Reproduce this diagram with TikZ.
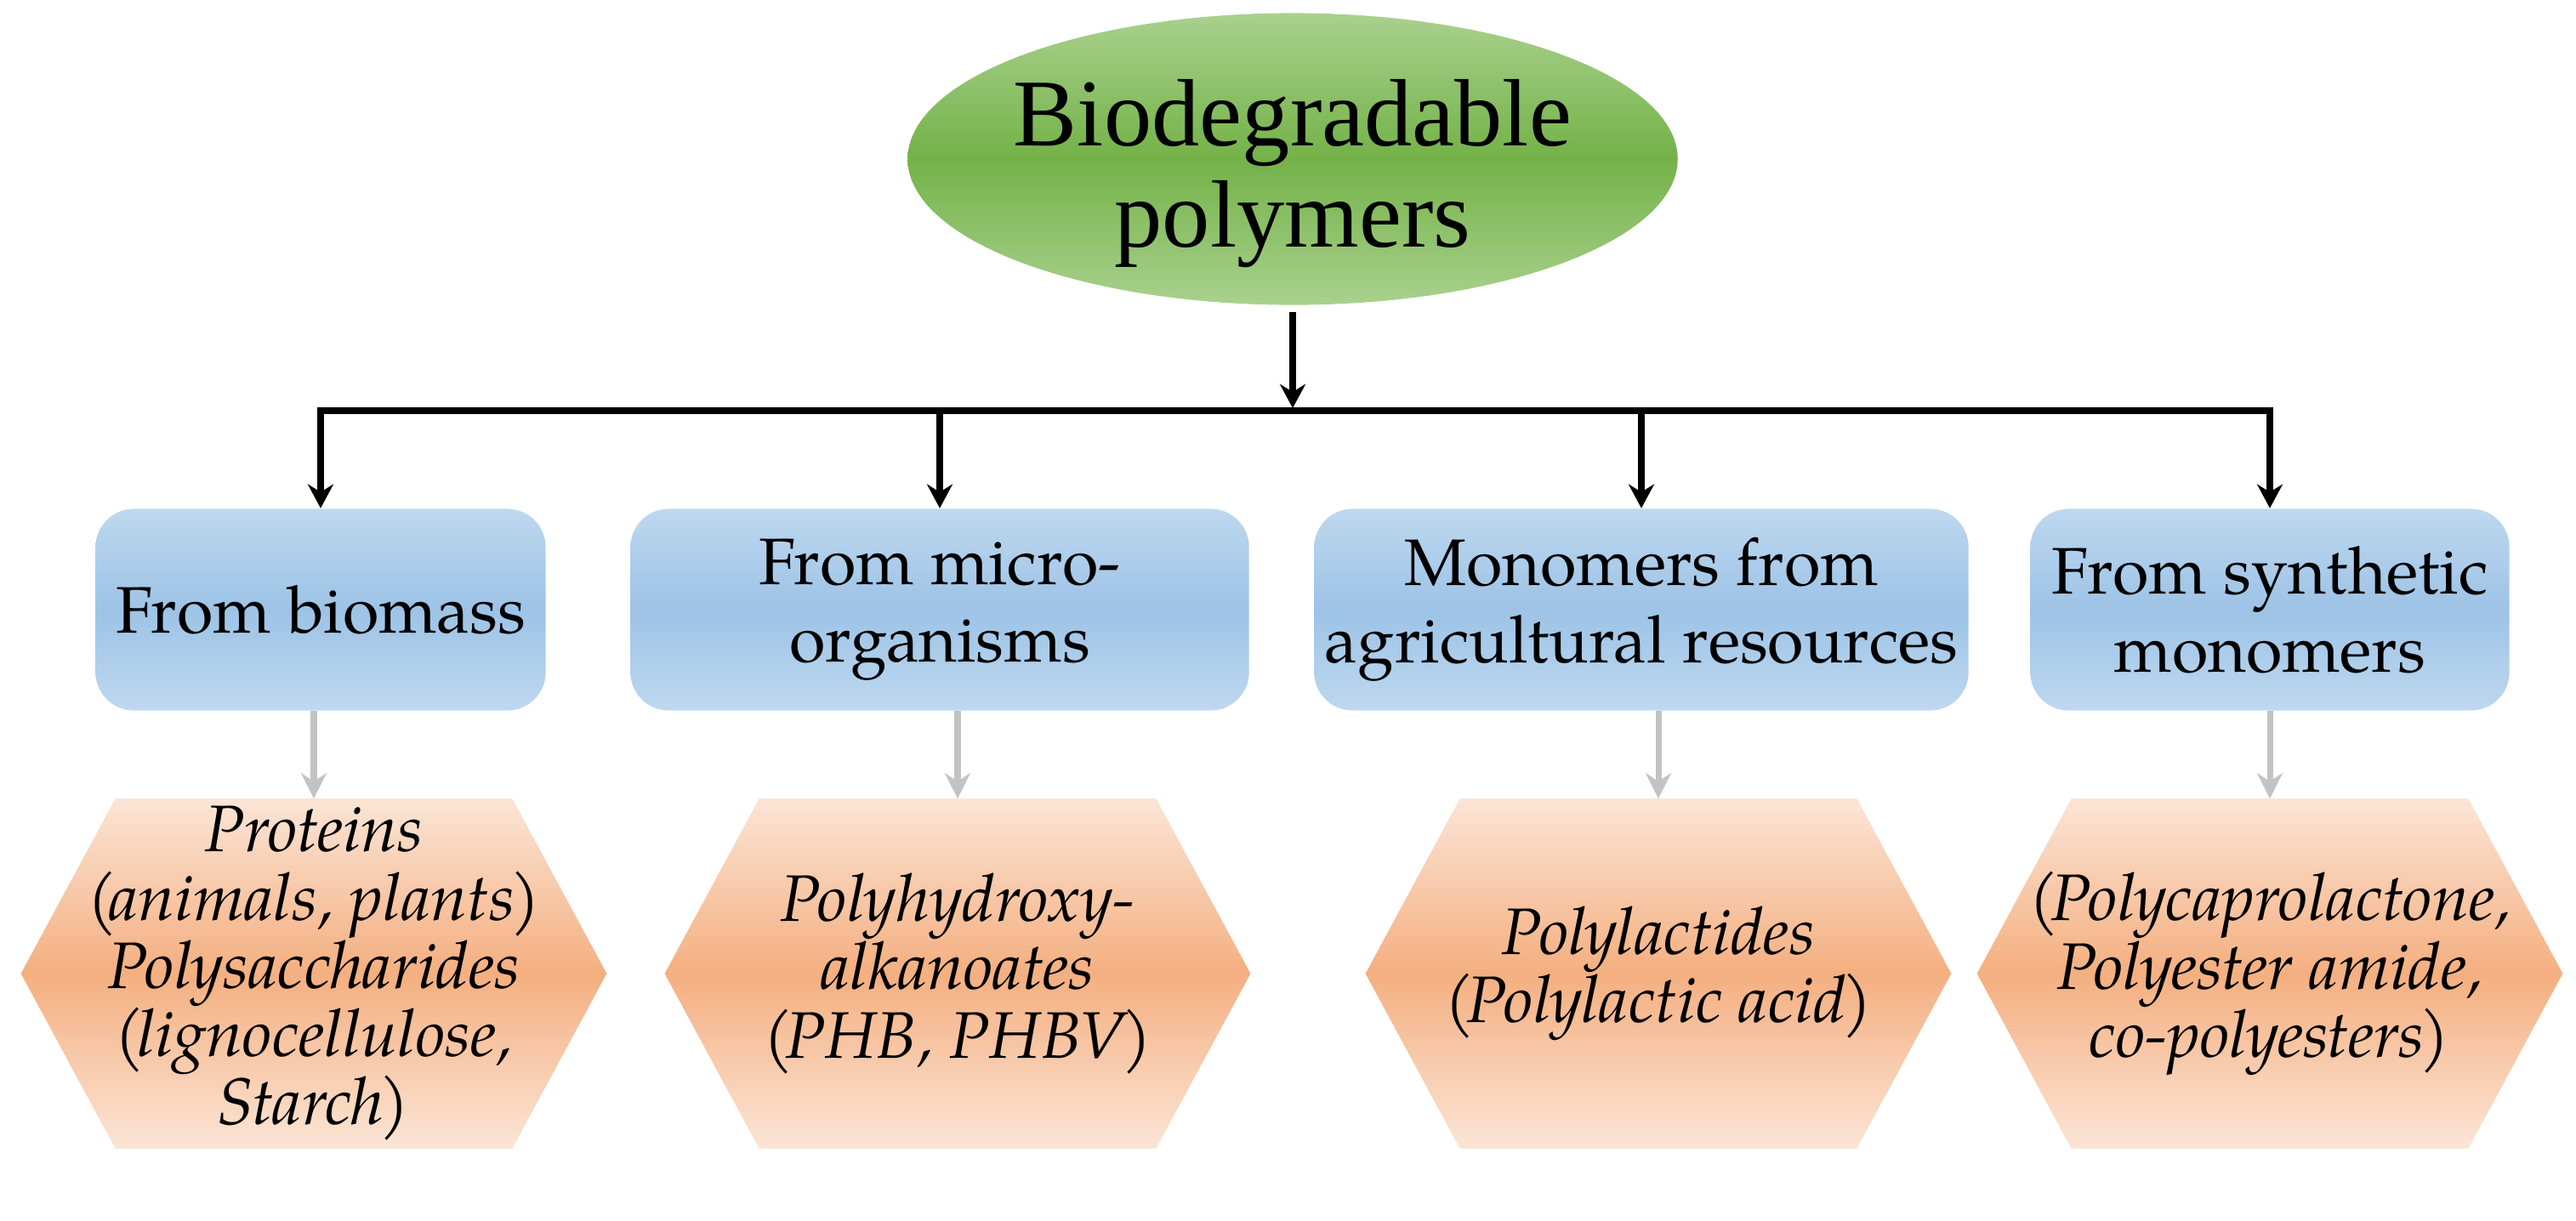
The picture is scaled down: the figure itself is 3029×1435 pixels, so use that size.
\documentclass[tikz,border=0pt]{standalone}
\usepackage{fontspec}
\setmainfont{TeX Gyre Pagella}
\newfontfamily\titlefont{Liberation Serif}
\usetikzlibrary{shapes.geometric,arrows.meta,backgrounds}
\definecolor{gLight}{RGB}{169,209,142}
\definecolor{gDark}{RGB}{116,178,72}
\definecolor{bLight}{RGB}{190,216,239}
\definecolor{bDark}{RGB}{157,195,230}
\definecolor{oLight}{RGB}{251,229,214}
\definecolor{oDark}{RGB}{244,175,128}
\definecolor{arrGray}{RGB}{195,195,195}
\newcommand{\opar}{(\kern-0.12em}
\newcommand{\cpar}{\kern-0.06em)}
\begin{document}
\begin{tikzpicture}[x=0.01cm,y=-0.01cm,
  titleshape/.style={ellipse, minimum width=9.05cm, minimum height=3.43cm, inner sep=0,
    top color=gLight, bottom color=gLight, middle color=gDark},
  titletext/.style={inner sep=0, align=center, font=\titlefont\fontsize{32}{34}\selectfont},
  catbox/.style={rectangle, rounded corners=0.45cm, minimum height=2.37cm, inner sep=0,
    top color=bLight, bottom color=bLight, middle color=bDark,
    align=center, font=\fontsize{22}{26}\selectfont},
  hexnode/.style={rectangle, minimum width=6.87cm, minimum height=4.1cm, inner sep=0,
    align=center, font=\itshape\fontsize{22}{22.8}\selectfont},
  hexshade/.style={top color=oLight, bottom color=oLight, middle color=oDark},
  blk/.style={draw=black, line width=2.4pt, -{Stealth[length=8pt,width=8.5pt]}},
  grayarrow/.style={draw=arrGray, line width=2pt, -{Stealth[length=8.5pt,width=8.5pt]}}
]
\useasboundingbox (0,0) rectangle (3029,1435);

\node[titleshape] (title) at (1520,187) {};
\node[titletext] (titletxt) at (1520,204) {Biodegradable\\polymers};

\node[catbox, minimum width=5.29cm] (b1) at (377,717) {From biomass};
\node[catbox, minimum width=7.27cm] (b2) at (1105,717) {From micro-\\organisms};
\node[catbox, minimum width=7.69cm] (b3) at (1930,717) {Monomers from\\agricultural\ resources};
\node[catbox, minimum width=5.63cm] (b4) at (2669,717) {From synthetic\\monomers};

\node[hexnode] (h1) at (369,1145) {Proteins\\\opar animals, plants\cpar\\Polysaccharides\\\opar lignocellulose,\\Starch\cpar};
\node[hexnode] (h2) at (1126,1145) {Polyhydroxy-\\alkanoates\\\opar PHB, PHBV\cpar};
\node[hexnode] (h3) at (1950,1145) {Polylactides\\\opar Polylactic acid\cpar};
\node[hexnode] (h4) at (2669,1145) {\opar Polycaprolactone,\\Polyester amide,\\co-polyesters\cpar};

\begin{scope}[on background layer]
  \foreach \h in {h1,h2,h3,h4}{
    \shade[hexshade] (\h.west) -- ([xshift=1.11cm]\h.north west) -- ([xshift=-1.11cm]\h.north east)
      -- (\h.east) -- ([xshift=-1.11cm]\h.south east) -- ([xshift=1.11cm]\h.south west) -- cycle;
  }
\end{scope}

\coordinate (bar) at (1520,483);
\draw[blk, shorten <=0.08cm, shorten >=0.03cm] (title.south) -- (title.south |- bar);
\draw[blk, {Stealth[length=8pt,width=8.5pt]}-{Stealth[length=8pt,width=8.5pt]}]
  (b1.north) -- (b1.north |- bar) -- (b4.north |- bar) -- (b4.north);
\draw[blk] (b2.north |- bar) -- (b2.north);
\draw[blk] (b3.north |- bar) -- (b3.north);

\draw[grayarrow] (h1.north |- b1.south) -- (h1.north);
\draw[grayarrow] (h2.north |- b2.south) -- (h2.north);
\draw[grayarrow] (h3.north |- b3.south) -- (h3.north);
\draw[grayarrow] (h4.north |- b4.south) -- (h4.north);
\end{tikzpicture}
\end{document}
